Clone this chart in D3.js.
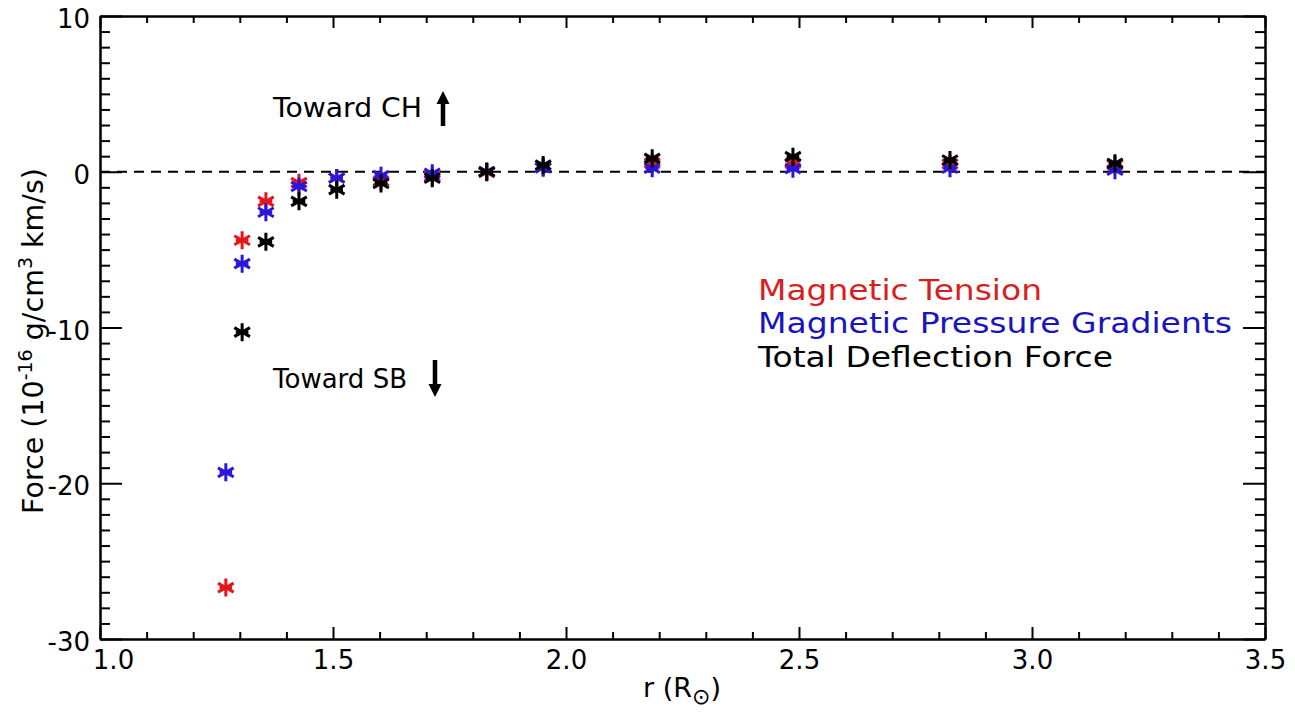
<!DOCTYPE html>
<html>
<head>
<meta charset="utf-8">
<script src="https://cdn.jsdelivr.net/npm/d3@7"></script>
<style>
  body { margin: 0; background: #fff; }
  svg { display: block; font-family: "DejaVu Sans", sans-serif; }
  .axis path, .axis line { stroke: #000; stroke-width: 2; }
  .axis text { font-size: 26px; fill: #000; font-family: "DejaVu Sans", sans-serif; }
</style>
</head>
<body>
<svg width="1295" height="715"></svg>
<script>
// radial distance (R_sun)
const radius = [1.27, 1.305, 1.356, 1.427, 1.508, 1.603, 1.713, 1.83, 1.951, 2.185, 2.487, 2.824, 3.178];
// forces, 10^-16 g/cm^3 km/s
const tension  = [-26.7, -4.4, -1.9, -0.7, -0.4, -0.6, -0.3, -0.05, 0.3, 0.55, 0.55, 0.5, 0.45];
const pressure = [-19.3, -5.9, -2.6, -0.95, -0.4, -0.25, -0.1, 0.02, 0.25, 0.22, 0.2, 0.22, 0.1];
const total    = [null, -10.3, -4.5, -1.9, -1.15, -0.75, -0.42, 0.0, 0.43, 0.86, 0.97, 0.75, 0.54];

const seriesNames = ["Magnetic Tension", "Magnetic Pressure Gradients", "Total Deflection Force"];
const seriesColours = ["#e8141a", "#2a17d9", "#000000"];
const legendColours = ["#d81e1e", "#1a14c0", "#000000"];
const legendWidths = [284, 474, 355];

const xMajor = [1.0, 1.5, 2.0, 2.5, 3.0, 3.5];
const yMajor = [-30, -20, -10, 0, 10];

const svg = d3.select("svg");

//plot box
const boxL = 100, boxR = 1265, boxT = 16, boxB = 639;

const x = d3.scaleLinear().domain([1, 3.5]).range([boxL, boxR]);
const y = d3.scaleLinear().domain([-30, 10]).range([boxB, boxT]);

const xMinor = d3.range(1.1, 3.5, 0.1).filter(v => Math.abs(v * 2 - Math.round(v * 2)) > 0.01);
const yMinor = d3.range(-29, 10, 1).filter(v => v % 10 !== 0);

//axes, ticks pointing inwards like IDL
svg.append("g").attr("class", "axis")
    .attr("transform", "translate(0," + boxB + ")")
    .call(d3.axisBottom(x).tickValues(xMajor).tickFormat(d => d.toFixed(1))
        .tickSize(-12).tickSizeOuter(0).tickPadding(12))
    .selectAll("text")
    .attr("dx", (d) => (d === 1 ? 13 : 0));

svg.append("g").attr("class", "axis")
    .attr("transform", "translate(0," + boxB + ")")
    .call(d3.axisBottom(x).tickValues(xMinor).tickFormat("").tickSize(-7).tickSizeOuter(0));

svg.append("g").attr("class", "axis")
    .attr("transform", "translate(0," + boxT + ")")
    .call(d3.axisTop(x).tickValues(xMajor).tickFormat("").tickSize(-12).tickSizeOuter(0));

svg.append("g").attr("class", "axis")
    .attr("transform", "translate(0," + boxT + ")")
    .call(d3.axisTop(x).tickValues(xMinor).tickFormat("").tickSize(-7).tickSizeOuter(0));

svg.append("g").attr("class", "axis")
    .attr("transform", "translate(" + boxL + ",0)")
    .call(d3.axisLeft(y).tickValues(yMajor).tickFormat(d => String(d))
        .tickSize(-22).tickSizeOuter(0).tickPadding(10))
    .selectAll("text")
    .attr("dy", "0.45em");

svg.append("g").attr("class", "axis")
    .attr("transform", "translate(" + boxL + ",0)")
    .call(d3.axisLeft(y).tickValues(yMinor).tickFormat("").tickSize(-10).tickSizeOuter(0));

svg.append("g").attr("class", "axis")
    .attr("transform", "translate(" + boxR + ",0)")
    .call(d3.axisRight(y).tickValues(yMajor).tickFormat("").tickSize(-22).tickSizeOuter(0));

svg.append("g").attr("class", "axis")
    .attr("transform", "translate(" + boxR + ",0)")
    .call(d3.axisRight(y).tickValues(yMinor).tickFormat("").tickSize(-10).tickSizeOuter(0));

//zero line
svg.append("line")
    .attr("x1", x(1)).attr("x2", x(3.5))
    .attr("y1", y(0)).attr("y2", y(0))
    .attr("stroke", "#000").attr("stroke-width", 2.2)
    .attr("stroke-dasharray", "10,7");

//asterisk markers
const s = 9;
const star = "M0," + -s + "V" + s +
    "M" + (-s * 0.87) + "," + (-s * 0.5) + "L" + (s * 0.87) + "," + (s * 0.5) +
    "M" + (-s * 0.87) + "," + (s * 0.5) + "L" + (s * 0.87) + "," + (-s * 0.5) +
    "M" + (-s * 0.7) + ",0H" + (s * 0.7);

[tension, pressure, total].forEach(function (vals, k) {
    const pts = radius.map((r, i) => ({ r: r, v: vals[i] })).filter(d => d.v !== null);
    svg.append("g")
        .selectAll("path")
        .data(pts)
        .enter()
        .append("path")
        .attr("transform", d => "translate(" + x(d.r) + "," + y(d.v) + ")")
        .attr("d", star)
        .attr("fill", "none")
        .attr("stroke", seriesColours[k])
        .attr("stroke-width", 3);
});

//legend
seriesNames.forEach(function (d, i) {
    svg.append("text")
        .attr("x", 758)
        .attr("y", 300 + i * 33.3)
        .attr("font-size", 28)
        .attr("fill", legendColours[i])
        .attr("textLength", legendWidths[i])
        .attr("lengthAdjust", "spacingAndGlyphs")
        .text(d);
});

//direction notes
function arrow(xc, yFrom, yTo) {
    const dir = yTo < yFrom ? 1 : -1;
    svg.append("line")
        .attr("x1", xc).attr("x2", xc)
        .attr("y1", yFrom).attr("y2", yTo + dir * 10)
        .attr("stroke", "#000").attr("stroke-width", 4.5);
    svg.append("path")
        .attr("d", "M" + xc + "," + yTo + "L" + (xc - 6.5) + "," + (yTo + dir * 13) +
            "L" + (xc + 6.5) + "," + (yTo + dir * 13) + "Z")
        .attr("fill", "#000");
}

svg.append("text").attr("x", 273).attr("y", 116.5).attr("font-size", 26)
    .attr("textLength", 149).attr("lengthAdjust", "spacingAndGlyphs").text("Toward CH");
arrow(443, 126, 91);
svg.append("text").attr("x", 273).attr("y", 388).attr("font-size", 26)
    .attr("textLength", 134).attr("lengthAdjust", "spacingAndGlyphs").text("Toward SB");
arrow(435, 360, 397);

//axis titles
const xt = svg.append("text")
    .attr("x", 682).attr("y", 697)
    .attr("text-anchor", "middle")
    .attr("font-size", 27);
xt.append("tspan").text("r (R");
xt.append("tspan").attr("dy", 7).attr("font-size", 22).text("\u2299");
xt.append("tspan").attr("dy", -7).text(")");

const yt = svg.append("text")
    .attr("transform", "translate(43,341) rotate(-90)")
    .attr("text-anchor", "middle")
    .attr("font-size", 28.5);
yt.append("tspan").text("Force (10");
yt.append("tspan").attr("dy", -11).attr("font-size", 19).text("-16");
yt.append("tspan").attr("dy", 11).text(" g/cm");
yt.append("tspan").attr("dy", -11).attr("font-size", 19).text("3");
yt.append("tspan").attr("dy", 11).text(" km/s)");
</script>
</body>
</html>
